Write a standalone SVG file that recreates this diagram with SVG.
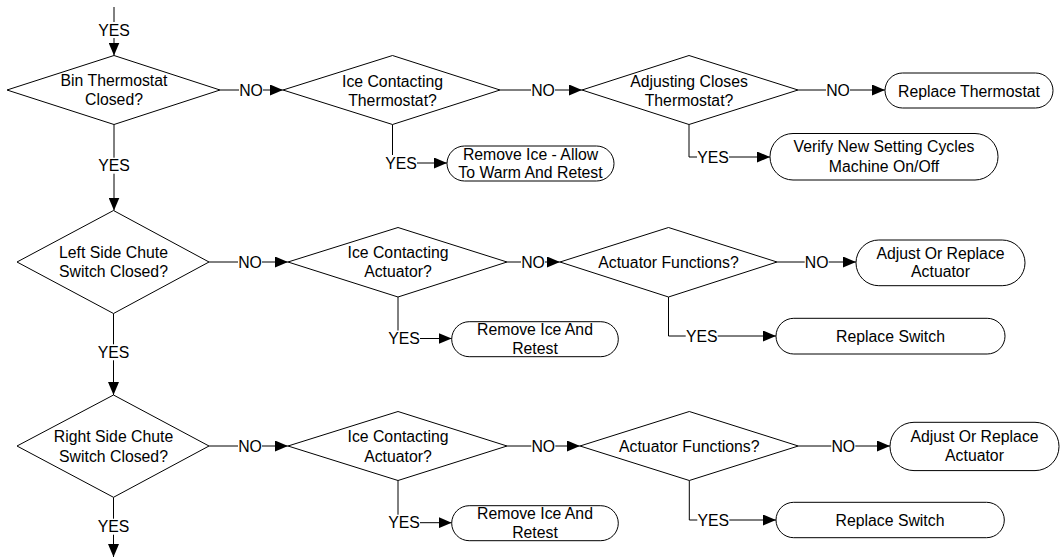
<svg xmlns="http://www.w3.org/2000/svg" width="1061" height="560" viewBox="0 0 1061 560">
<style>
text{font-family:"Liberation Sans",Arial,sans-serif;font-size:15.8px;fill:#000;text-anchor:middle}
.shape{fill:#fff;stroke:#000;stroke-width:1}
.conn{fill:none;stroke:#000;stroke-width:1;marker-end:url(#arr)}
.lbg{fill:#fff;stroke:none}
</style>
<defs>
<marker id="arr" markerUnits="userSpaceOnUse" markerWidth="14" markerHeight="11" refX="13" refY="5.5" orient="auto">
<path d="M0,0 L13,5.5 L0,11 z" fill="#000"/>
</marker>
</defs>
<rect width="1061" height="560" fill="#fff"/>

<g id="connectors">
<path class="conn" d="M114,7 V55.5"/>
<path class="conn" d="M220,90 H283"/>
<path class="conn" d="M500,90 H582"/>
<path class="conn" d="M798,90 H885"/>
<path class="conn" d="M392.5,124.5 V163 H447"/>
<path class="conn" d="M689,124.5 V157 H770"/>
<path class="conn" d="M114,124.5 V210.5"/>

<path class="conn" d="M209,262 H288"/>
<path class="conn" d="M507,262 H560"/>
<path class="conn" d="M777,262 H856"/>
<path class="conn" d="M398,297 V338.5 H451.7"/>
<path class="conn" d="M668.5,297 V336 H776"/>
<path class="conn" d="M113.5,313.5 V395"/>

<path class="conn" d="M209,446 H288"/>
<path class="conn" d="M507,446 H580"/>
<path class="conn" d="M798.3,446 H890"/>
<path class="conn" d="M398,480.5 V522.7 H451.7"/>
<path class="conn" d="M689.3,480.5 V520 H776"/>
<path class="conn" d="M113.5,497.3 V557"/>

<g id="labels">
<rect class="lbg" x="98" y="22" width="32" height="16"/><text x="114" y="35.7">YES</text>
<rect class="lbg" x="239" y="82" width="24" height="16"/><text x="251" y="95.7">NO</text>
<rect class="lbg" x="531" y="82" width="24" height="16"/><text x="543" y="95.7">NO</text>
<rect class="lbg" x="826" y="82" width="24" height="16"/><text x="838" y="95.7">NO</text>
<rect class="lbg" x="385" y="155" width="32" height="16"/><text x="401" y="168.7">YES</text>
<rect class="lbg" x="697" y="149" width="32" height="16"/><text x="713" y="162.7">YES</text>
<rect class="lbg" x="98" y="157.7" width="32" height="16"/><text x="114" y="171.4">YES</text>

<rect class="lbg" x="238" y="254" width="24" height="16"/><text x="250" y="267.7">NO</text>
<rect class="lbg" x="521" y="254" width="24" height="16"/><text x="533" y="267.7">NO</text>
<rect class="lbg" x="804.7" y="254" width="24" height="16"/><text x="816.7" y="267.7">NO</text>
<rect class="lbg" x="388" y="330.5" width="32" height="16"/><text x="404" y="344.2">YES</text>
<rect class="lbg" x="685.7" y="328" width="32" height="16"/><text x="701.7" y="341.7">YES</text>
<rect class="lbg" x="97.5" y="344.3" width="32" height="16"/><text x="113.5" y="358">YES</text>

<rect class="lbg" x="238" y="438" width="24" height="16"/><text x="250" y="451.7">NO</text>
<rect class="lbg" x="531.3" y="438" width="24" height="16"/><text x="543.3" y="451.7">NO</text>
<rect class="lbg" x="831.3" y="438" width="24" height="16"/><text x="843.3" y="451.7">NO</text>
<rect class="lbg" x="388" y="514.7" width="32" height="16"/><text x="404" y="528.4">YES</text>
<rect class="lbg" x="697.3" y="512" width="32" height="16"/><text x="713.3" y="525.7">YES</text>
<rect class="lbg" x="97.5" y="518.7" width="32" height="16"/><text x="113.5" y="532.4">YES</text>
</g>
</g>

<g id="d1"><polygon class="shape" points="114,55.5 220,90 114,124.5 7,90"/><text x="114" y="86">Bin Thermostat</text><text x="114" y="105">Closed?</text></g>
<g id="d2"><polygon class="shape" points="392.5,55.5 500,90 392.5,124.5 283,90"/><text x="392.5" y="87">Ice Contacting</text><text x="392.5" y="106.2">Thermostat?</text></g>
<g id="d3"><polygon class="shape" points="689,55.5 798,90 689,124.5 582,90"/><text x="689" y="87">Adjusting Closes</text><text x="689" y="106.2">Thermostat?</text></g>
<g id="b1"><rect class="shape" x="885" y="73" width="168" height="35" rx="17.5"/><text x="969" y="96.5">Replace Thermostat</text></g>
<g id="b2"><rect class="shape" x="447" y="146" width="167" height="35" rx="17.5"/><text x="530.5" y="160">Remove Ice - Allow</text><text x="530.5" y="178.4">To Warm And Retest</text></g>
<g id="b3"><rect class="shape" x="770" y="133.5" width="228" height="46.5" rx="23"/><text x="884" y="152.4">Verify New Setting Cycles</text><text x="884" y="171.7">Machine On/Off</text></g>

<g id="d4"><polygon class="shape" points="113.5,210.5 209,262 113.5,313.5 17,262"/><text x="113.5" y="258.4">Left Side Chute</text><text x="113.5" y="277.4">Switch Closed?</text></g>
<g id="d5"><polygon class="shape" points="398,227.5 507,262 398,297 288,262"/><text x="398" y="258.4">Ice Contacting</text><text x="398" y="277.4">Actuator?</text></g>
<g id="d6"><polygon class="shape" points="668.5,227.5 777,262 668.5,297 560,262"/><text x="668.5" y="268.4">Actuator Functions?</text></g>
<g id="b4"><rect class="shape" x="856" y="240" width="169" height="45.7" rx="22.8"/><text x="940.5" y="259">Adjust Or Replace</text><text x="940.5" y="277.4">Actuator</text></g>
<g id="b5"><rect class="shape" x="451.7" y="321.7" width="166.6" height="35" rx="17.5"/><text x="535" y="335">Remove Ice And</text><text x="535" y="354">Retest</text></g>
<g id="b6"><rect class="shape" x="776" y="318.3" width="229" height="35.7" rx="17.8"/><text x="890.5" y="341.7">Replace Switch</text></g>

<g id="d7"><polygon class="shape" points="113.5,395 209,446 113.5,497.3 17,446"/><text x="113.5" y="441.7">Right Side Chute</text><text x="113.5" y="461.7">Switch Closed?</text></g>
<g id="d8"><polygon class="shape" points="398,411.5 507,446 398,480.5 288,446"/><text x="398" y="442.4">Ice Contacting</text><text x="398" y="461.7">Actuator?</text></g>
<g id="d9"><polygon class="shape" points="689.3,411.5 798.3,446 689.3,480.5 580,446"/><text x="689.3" y="451.7">Actuator Functions?</text></g>
<g id="b7"><rect class="shape" x="890" y="422.3" width="169" height="48.3" rx="24"/><text x="974.5" y="442.4">Adjust Or Replace</text><text x="974.5" y="461.4">Actuator</text></g>
<g id="b8"><rect class="shape" x="451.7" y="505.7" width="166.6" height="35" rx="17.5"/><text x="535" y="519">Remove Ice And</text><text x="535" y="538">Retest</text></g>
<g id="b9"><rect class="shape" x="776" y="502.3" width="228.3" height="35.4" rx="17.7"/><text x="890" y="525.7">Replace Switch</text></g>
</svg>
